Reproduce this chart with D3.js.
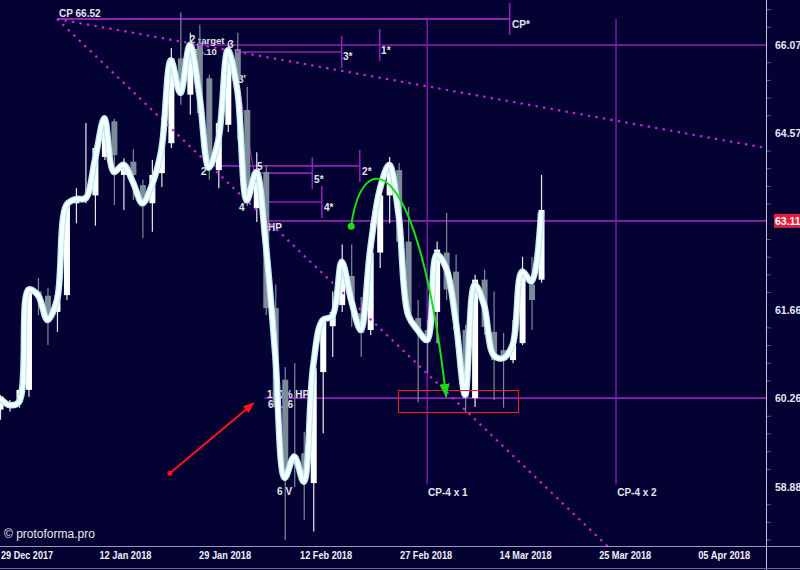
<!DOCTYPE html>
<html><head><meta charset="utf-8">
<script src="https://cdn.jsdelivr.net/npm/d3@7"></script>
<style>
html,body{margin:0;padding:0;background:#040233;}
svg{display:block;}
text{font-family:"Liberation Sans",Arial,sans-serif;}
</style></head><body>
<svg id="c" width="800" height="570"></svg>
<script>
// ---- candle data (one entry per bar) ----
const opens = [60.08,60.11,60.20,60.39,61.96,61.89,61.63,61.90,63.40,63.45,
 63.53,64.17,64.77,63.87,64.09,63.70,63.40,63.90,64.40,65.84,
 65.22,66.10,65.50,63.95,64.71,66.00,64.96,63.32,63.92,61.69,
 60.55,59.37,59.40,58.94,60.67,61.40,61.74,62.21,61.61,61.34,
 62.59,63.53,63.95,62.77,61.53,61.34,61.63,62.59,62.28,61.34,
 60.26,62.15,61.31,61.02,60.86,61.13,62.07,62.15];
const highs = [60.31,60.23,60.42,62.04,62.18,62.02,61.94,63.45,63.65,64.74,
 64.37,64.82,64.81,64.15,64.30,63.79,64.12,64.84,66.02,66.63,
 66.28,66.42,65.56,64.79,66.12,66.28,65.35,64.25,64.04,62.07,
 60.75,60.81,59.73,60.76,61.53,61.96,62.72,62.72,61.87,63.07,
 63.62,64.17,64.07,63.34,61.82,61.50,62.77,63.24,62.56,61.42,
 62.23,62.31,61.96,61.29,61.50,62.52,62.52,63.87];
const lows = [59.92,60.05,60.11,60.28,61.58,61.10,61.31,61.82,63.07,63.40,
 63.03,64.12,63.37,63.29,63.45,62.83,62.93,63.67,64.32,65.05,
 64.88,64.79,63.79,63.65,64.59,64.45,63.35,63.09,61.58,60.08,
 58.07,58.88,58.38,58.20,59.71,60.91,61.63,61.39,60.91,61.26,
 62.34,63.07,62.72,61.50,60.19,60.66,61.13,61.82,61.10,60.03,
 60.12,61.26,60.23,60.11,60.81,61.10,61.34,62.10];
const closes = [60.28,60.20,60.39,61.96,61.86,61.61,61.90,63.40,63.48,63.53,
 64.32,64.76,64.20,64.04,63.87,63.45,63.87,64.40,65.84,65.22,
 66.10,64.91,64.04,64.74,65.98,65.47,63.40,63.95,61.69,60.12,
 59.02,59.27,59.09,60.73,61.47,61.63,62.44,61.74,61.29,62.59,
 63.53,64.04,62.77,61.56,61.34,61.15,62.64,61.99,61.34,60.28,
 62.15,61.39,60.86,60.92,61.15,62.28,61.82,63.29];
// smoothed indicator line
const curveVals = [60.26,60.15,60.20,61.99,61.90,61.50,61.82,63.37,63.47,63.48,
 64.12,64.82,63.92,64.04,63.75,63.40,63.70,64.29,65.81,65.25,
 66.07,65.22,63.99,64.45,65.98,65.30,63.45,63.92,62.72,60.94,
 59.02,59.35,58.96,60.78,61.50,61.56,62.44,61.82,61.34,62.64,
 63.62,64.04,63.20,61.58,61.34,61.18,62.56,62.34,61.50,60.31,
 62.07,61.74,60.94,60.89,61.10,62.28,62.12,63.25];

// ---- axes ----
const priceTicks = [66.07,64.57,63.11,61.66,60.26,58.88];
const highlightTick = 63.11;
const dateLabels = ["29 Dec 2017","12 Jan 2018","29 Jan 2018","12 Feb 2018","27 Feb 2018","14 Mar 2018","25 Mar 2018","05 Apr 2018"];
const dateIdx = [2.85,13.22,23.71,34.35,44.89,55.37,65.86,76.29];

// ---- annotations (bar index, price) ----
const levelPrice = [66.52,66.07,65.95,64.02,63.90,63.42,63.11,60.26];
const levelFrom  = [6.0,20.0,25.0,21.6,27.4,27.6,27.9,27.9];
const levelTo    = [53.7,80.7,36.0,37.9,32.9,33.9,80.7,80.7];
const levelTick  = [true,false,true,true,true,true,false,false];
const extraTicks = [[40.0,66.07]];           // 1*
const cpVerticals = [45.0,64.9];
const cpVertRange = [66.52,58.92];
const cpPoint = [6.0,66.52];
const dottedEnds = [[80.7,64.32],[64.2,57.95]];
const thinDiag = [[24.9,65.61],[27.1,63.62]];
const greenArc = [[37.0,63.02],[38.15,64.39],[44.05,64.29],[47.0,60.28]];
const redArrow = [[17.9,59.09],[26.7,60.18]];
const redBox = [[41.9,60.39],[54.5,60.05]];
const labels = [
 ["CP 66.52",6.22,66.55],["2",20.0,66.10],["target",20.86,66.09],["66.10",20.34,65.89],
 ["3",24.03,66.02],["3'",25.08,65.42],["3*",36.14,65.81],["1*",40.15,65.92],["CP*",53.95,66.36],
 ["2",21.18,63.87],["5",27.08,63.95],["4",25.18,63.27],["5*",33.09,63.74],["4*",34.14,63.27],
 ["2*",38.15,63.87],["HP",28.24,62.94],["100% HP",28.13,60.26],["60.26",28.24,60.10],
 ["6 V",29.19,58.76],["CP-4 x 1",45.1,58.74],["CP-4 x 2",65.02,58.74]
];
const watermark = "© protoforma.pro";

// ---- drawing ----
const W=800,H=570,PW=766,PH=546;
const svg = d3.select("#c");
const x = d3.scaleLinear().domain([0,80.7]).range([0,PW]);
const y = d3.scaleLog().domain([58.88,66.07]).range([487,45]);
const P = d => [x(d[0]), y(d[1])];

svg.append("rect").attr("width",W).attr("height",H).attr("fill","#040233");
const defs = svg.append("defs");
defs.append("clipPath").attr("id","clip").append("rect").attr("width",PW).attr("height",PH);
defs.append("marker").attr("id","ga").attr("viewBox","0 0 14 10").attr("refX",13).attr("refY",5)
  .attr("markerWidth",14).attr("markerHeight",10).attr("markerUnits","userSpaceOnUse").attr("orient","auto")
  .append("path").attr("d","M0,0L14,5L0,10z").attr("fill","#14e014");
defs.append("marker").attr("id","ra").attr("viewBox","0 0 11 9").attr("refX",10).attr("refY",4.5)
  .attr("markerWidth",11).attr("markerHeight",9).attr("markerUnits","userSpaceOnUse").attr("orient","auto")
  .append("path").attr("d","M0,0L11,4.5L0,9z").attr("fill","#ff1414");

const g = svg.append("g").attr("clip-path","url(#clip)");
const purple = "#8f22b4";

// level lines
levelPrice.forEach((p,k)=>{
  g.append("line").attr("x1",x(levelFrom[k])).attr("x2",x(levelTo[k]))
   .attr("y1",y(p)).attr("y2",y(p)).attr("stroke",purple).attr("stroke-width",k===0?2:1.6);
  if(levelTick[k]) g.append("line").attr("x1",x(levelTo[k])).attr("x2",x(levelTo[k]))
   .attr("y1",y(p)-16).attr("y2",y(p)+16).attr("stroke",purple).attr("stroke-width",1.6);
});
extraTicks.forEach(t=>g.append("line").attr("x1",x(t[0])).attr("x2",x(t[0]))
   .attr("y1",y(t[1])-16).attr("y2",y(t[1])+16).attr("stroke",purple).attr("stroke-width",1.6));
cpVerticals.forEach(v=>g.append("line").attr("x1",x(v)).attr("x2",x(v))
   .attr("y1",y(cpVertRange[0])).attr("y2",y(cpVertRange[1])).attr("stroke",purple).attr("stroke-width",1.3));
g.append("line").attr("x1",P(thinDiag[0])[0]).attr("y1",P(thinDiag[0])[1])
  .attr("x2",P(thinDiag[1])[0]).attr("y2",P(thinDiag[1])[1]).attr("stroke","#b020c8").attr("stroke-width",1);

// labels
g.selectAll("text.lab").data(labels).join("text").attr("class","lab")
  .attr("x",d=>x(d[1])).attr("y",d=>y(d[2])).text(d=>d[0])
  .attr("fill","#e4e4f0").attr("font-size",d=>d[0]==="target"||d[0]==="66.10"?9.5:10).attr("font-weight","bold");

// candles
const idx = d3.range(opens.length);
g.selectAll("line.wick").data(idx).join("line").attr("class","wick")
  .attr("x1",i=>x(i)+0.5).attr("x2",i=>x(i)+0.5).attr("y1",i=>y(highs[i])).attr("y2",i=>y(lows[i]))
  .attr("stroke",i=>closes[i]>=opens[i]?"#e8e8ee":"#7d8a98").attr("stroke-width",1.2);
g.selectAll("rect.body").data(idx).join("rect").attr("class","body")
  .attr("x",i=>x(i)-2.5).attr("width",6)
  .attr("y",i=>y(Math.max(opens[i],closes[i])))
  .attr("height",i=>Math.max(1.5,Math.abs(y(opens[i])-y(closes[i]))))
  .attr("fill",i=>closes[i]>=opens[i]?"#ffffff":"#7d8a98");

// dotted lines
dottedEnds.forEach(e=>g.append("line").attr("x1",P(cpPoint)[0]).attr("y1",P(cpPoint)[1])
  .attr("x2",P(e)[0]).attr("y2",P(e)[1]).attr("stroke","#cc22e0").attr("stroke-width",2.2)
  .attr("stroke-dasharray","2.4,5.2"));

// smoothed line
const ln = d3.line().x((d,i)=>x(i)).y(d=>y(d)).curve(d3.curveCatmullRom.alpha(0.5));
g.append("path").attr("d",ln(curveVals)).attr("fill","none").attr("stroke","#b8eaf4").attr("stroke-width",6.5).attr("stroke-linejoin","round");
g.append("path").attr("d",ln(curveVals)).attr("fill","none").attr("stroke","#f8ffff").attr("stroke-width",4).attr("stroke-linejoin","round");

// red box + arrow
g.append("rect").attr("x",Math.round(x(redBox[0][0]))+0.5).attr("y",Math.round(y(redBox[0][1]))+0.5)
  .attr("width",Math.round(x(redBox[1][0])-x(redBox[0][0]))).attr("height",Math.round(y(redBox[1][1])-y(redBox[0][1])))
  .attr("fill","none").attr("stroke","#ff1a1a").attr("stroke-width",1);
g.append("line").attr("x1",P(redArrow[0])[0]).attr("y1",P(redArrow[0])[1])
  .attr("x2",P(redArrow[1])[0]).attr("y2",P(redArrow[1])[1]).attr("stroke","#ff1414").attr("stroke-width",2)
  .attr("marker-end","url(#ra)");
g.append("circle").attr("cx",P(redArrow[0])[0]).attr("cy",P(redArrow[0])[1]).attr("r",2.5).attr("fill","#ff1414");

// green arc
const ga = greenArc.map(P);
g.append("path").attr("d",`M${ga[0]}C${ga[1]} ${ga[2]} ${ga[3]}`).attr("fill","none")
  .attr("stroke","#14e014").attr("stroke-width",2).attr("marker-end","url(#ga)");
g.append("circle").attr("cx",ga[0][0]).attr("cy",ga[0][1]).attr("r",3.5).attr("fill","#14e014");

// right axis
svg.append("line").attr("x1",PW+0.5).attr("x2",PW+0.5).attr("y1",0).attr("y2",H).attr("stroke","#c4c4dc").attr("stroke-width",1);
const step = (y(priceTicks[priceTicks.length-1])-y(priceTicks[0]))/((priceTicks.length-1)*5);
for(let k=-2;k<=29;k++){
  const py = y(priceTicks[0])+k*step;
  if(py<2||py>PH-2) continue;
  const major = k%5===0 && k>=0 && k<=25;
  svg.append("line").attr("x1",PW+1).attr("x2",PW+(major?9:5)).attr("y1",py).attr("y2",py)
    .attr("stroke",major?"#000000":"#5a5a78").attr("stroke-width",1);
}
priceTicks.forEach(v=>{
  const hl = v===highlightTick;
  if(hl) svg.append("rect").attr("x",PW+8).attr("y",y(v)-7).attr("width",W-PW-8).attr("height",14).attr("fill","#e5203e");
  svg.append("text").attr("x",PW+9).attr("y",y(v)+4).text(v.toFixed(2))
    .attr("fill",hl?"#ffffff":"#e6e6f2").attr("font-size",10.5).attr("font-weight","bold");
});

// bottom axis
svg.append("line").attr("x1",0).attr("x2",W).attr("y1",PH+0.5).attr("y2",PH+0.5).attr("stroke","#9a9ab8");
svg.append("line").attr("x1",0).attr("x2",W).attr("y1",H-1.5).attr("y2",H-1.5).attr("stroke","#6a6a90");
dateLabels.forEach((t,k)=>{
  svg.append("text").attr("x",x(dateIdx[k])).attr("y",PH+13).attr("text-anchor","middle").text(t)
    .attr("fill","#f0f0f6").attr("font-size",11.5).attr("font-weight","bold")
    .attr("textLength",52).attr("lengthAdjust","spacingAndGlyphs");
});
svg.append("text").attr("x",4).attr("y",PH-8).text(watermark).attr("fill","#e8e8f0").attr("font-size",12);
</script>
</body></html>
